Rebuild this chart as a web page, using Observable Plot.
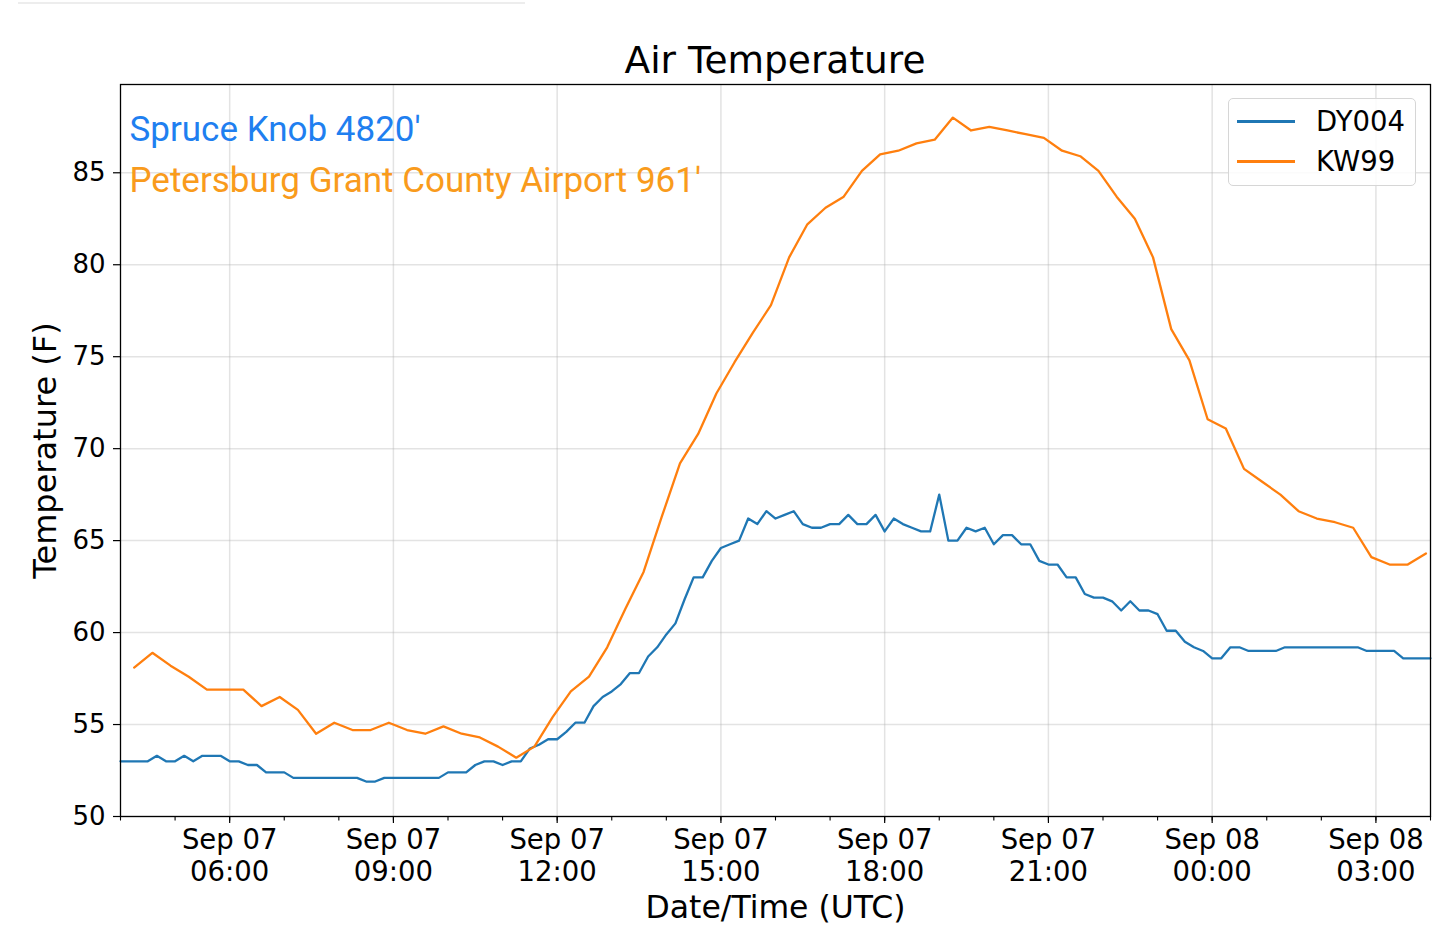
<!DOCTYPE html>
<html>
<head>
<meta charset="utf-8">
<script src="https://cdn.jsdelivr.net/npm/d3@7"></script>
<script src="https://cdn.jsdelivr.net/npm/@observablehq/plot@0.6"></script>
<style>
  html, body { margin: 0; padding: 0; background: #fff; }
  body { width: 1440px; height: 951px; overflow: hidden; position: relative; font-family: "DejaVu Sans", sans-serif; }
  #topline { position: absolute; left: 18px; top: 2px; width: 507px; height: 2px; background: #ededed; }
  #title { position: absolute; left: 0; top: 40px; width: 1550px; text-align: center; font-size: 37.5px; line-height: 40px; color: #000; }
  #chart { position: absolute; left: 0; top: 0; }
  #legend { position: absolute; left: 1228px; top: 98px; width: 186px; height: 86px; border: 1.5px solid #d6d6d6; border-radius: 5px; background: rgba(255,255,255,0.85); }
  .row { position: absolute; left: 0; height: 30px; width: 186px; }
  .sw { position: absolute; left: 8px; top: 14px; width: 58px; height: 2.5px; }
  .lab { position: absolute; left: 87px; top: 0; font-size: 27.5px; line-height: 30px; color: #000; }
</style>
</head>
<body>
<div id="topline"></div>
<div id="chart"></div>
<div id="title"></div>
<div id="legend"></div>
<script>
// ---------- data ----------
const seriesNames = ["DY004", "KW99"];
const seriesColors = ["#1f77b4", "#ff7f0e"];
const stationNotes = ["Spruce Knob 4820'", "Petersburg Grant County Airport 961'"];
const noteColors = ["#1f7ff0", "#f99b1c"];
const titleText = "Air Temperature";
const yLabel = "Temperature (F)";
const xLabel = "Date/Time (UTC)";

// DY004: every 10 minutes from 2018-09-07 04:00 UTC
const dyStart = "2018-09-07T04:00:00Z";
const dyStepMinutes = 10;
const dyTemps = [
  53.0, 53.0, 53.0, 53.0, 53.3, 53.0, 53.0, 53.3, 53.0, 53.3, 53.3, 53.3,
  53.0, 53.0, 52.8, 52.8, 52.4, 52.4, 52.4, 52.1, 52.1, 52.1, 52.1, 52.1,
  52.1, 52.1, 52.1, 51.9, 51.9, 52.1, 52.1, 52.1, 52.1, 52.1, 52.1, 52.1,
  52.4, 52.4, 52.4, 52.8, 53.0, 53.0, 52.8, 53.0, 53.0, 53.7, 53.9, 54.2,
  54.2, 54.6, 55.1, 55.1, 56.0, 56.5, 56.8, 57.2, 57.8, 57.8, 58.7, 59.2,
  59.9, 60.5, 61.8, 63.0, 63.0, 63.9, 64.6, 64.8, 65.0, 66.2, 65.9, 66.6,
  66.2, 66.4, 66.6, 65.9, 65.7, 65.7, 65.9, 65.9, 66.4, 65.9, 65.9, 66.4,
  65.5, 66.2, 65.9, 65.7, 65.5, 65.5, 67.5, 65.0, 65.0, 65.7, 65.5, 65.7,
  64.8, 65.3, 65.3, 64.8, 64.8, 63.9, 63.7, 63.7, 63.0, 63.0, 62.1, 61.9,
  61.9, 61.7, 61.2, 61.7, 61.2, 61.2, 61.0, 60.1, 60.1, 59.5, 59.2, 59.0,
  58.6, 58.6, 59.2, 59.2, 59.0, 59.0, 59.0, 59.0, 59.2, 59.2, 59.2, 59.2,
  59.2, 59.2, 59.2, 59.2, 59.2, 59.0, 59.0, 59.0, 59.0, 58.6, 58.6, 58.6,
  58.6
];

// KW99: every 20 minutes from 2018-09-07 04:15 UTC
const kwStart = "2018-09-07T04:15:00Z";
const kwStepMinutes = 20;
const kwTemps = [
  58.1, 58.9, 58.2, 57.6, 56.9, 56.9, 56.9, 56.0, 56.5, 55.8, 54.5, 55.1,
  54.7, 54.7, 55.1, 54.7, 54.5, 54.9, 54.5, 54.3, 53.8, 53.2, 53.8, 55.4,
  56.8, 57.6, 59.2, 61.3, 63.3, 66.3, 69.2, 70.8, 73.0, 74.7, 76.3, 77.8,
  80.4, 82.2, 83.1, 83.7, 85.1, 86.0, 86.2, 86.6, 86.8, 88.0, 87.3, 87.5,
  87.3, 87.1, 86.9, 86.2, 85.9, 85.1, 83.7, 82.5, 80.4, 76.5, 74.8, 71.6,
  71.1, 68.9, 68.2, 67.5, 66.6, 66.2, 66.0, 65.7, 64.1, 63.7, 63.7, 64.3
];

const xDomain = ["2018-09-07T04:00:00Z", "2018-09-08T04:00:00Z"];
const xMajorTicks = ["2018-09-07T06:00:00Z", "2018-09-07T09:00:00Z", "2018-09-07T12:00:00Z",
  "2018-09-07T15:00:00Z", "2018-09-07T18:00:00Z", "2018-09-07T21:00:00Z",
  "2018-09-08T00:00:00Z", "2018-09-08T03:00:00Z"];
const yTicks = [50, 55, 60, 65, 70, 75, 80, 85];
const yDomain = [50, 89.8];

// ---------- build ----------
const dyData = dyTemps.map((t, i) => ({series: seriesNames[0], time: d3.utcMinute.offset(new Date(dyStart), i * dyStepMinutes), temp: t}));
const kwData = kwTemps.map((t, i) => ({series: seriesNames[1], time: d3.utcMinute.offset(new Date(kwStart), i * kwStepMinutes), temp: t}));
const major = xMajorTicks.map(d => new Date(d));
const xd = xDomain.map(d => new Date(d));
const minor = d3.utcHour.range(xd[0], d3.utcHour.offset(xd[1], 1));
const fmt = d3.utcFormat("%b %d\n%H:%M");

const chart = Plot.plot({
  width: 1440,
  height: 951,
  marginLeft: 120,
  marginRight: 10,
  marginTop: 84,
  marginBottom: 135,
  style: {fontFamily: "DejaVu Sans", color: "#000", background: "transparent"},
  x: {type: "utc", domain: xd},
  y: {domain: yDomain},
  marks: [
    Plot.gridY(yTicks, {stroke: "#b0b0b0", strokeOpacity: 0.35, strokeWidth: 1.5}),
    Plot.gridX(major, {stroke: "#b0b0b0", strokeOpacity: 0.35, strokeWidth: 1.5}),
    Plot.line(dyData, {x: "time", y: "temp", stroke: seriesColors[0], strokeWidth: 2.3}),
    Plot.line(kwData, {x: "time", y: "temp", stroke: seriesColors[1], strokeWidth: 2.3}),
    Plot.frame({stroke: "#000", strokeWidth: 1.3}),
    Plot.axisY(yTicks, {tickSize: 7, tickPadding: 8, fontSize: 26, label: null, strokeWidth: 1.2}),
    Plot.axisX(minor, {tickSize: 4.5, tickFormat: () => "", label: null, strokeWidth: 1.1}),
    Plot.axisX(major, {tickSize: 7, tickPadding: 3, fontSize: 27.5, lineHeight: 1.16, tickFormat: d => fmt(d), label: null, strokeWidth: 1.2}),
    Plot.text([stationNotes[0]], {frameAnchor: "top-left", dx: 9, dy: 45, fill: noteColors[0], fontSize: 35, fontFamily: "Roboto", textAnchor: "start", lineAnchor: "middle"}),
    Plot.text([stationNotes[1]], {frameAnchor: "top-left", dx: 9, dy: 96, fill: noteColors[1], fontSize: 35, fontFamily: "Roboto", textAnchor: "start", lineAnchor: "middle"}),
    Plot.text([yLabel], {frameAnchor: "left", dx: -75, rotate: -90, fontSize: 32, textAnchor: "middle", lineAnchor: "middle"}),
    Plot.text([xLabel], {frameAnchor: "bottom", dy: 91, fontSize: 31.5, textAnchor: "middle", lineAnchor: "middle"})
  ]
});
document.getElementById("chart").appendChild(chart);
document.getElementById("title").textContent = titleText;

const legend = document.getElementById("legend");
seriesNames.forEach((name, i) => {
  const row = document.createElement("div");
  row.className = "row";
  row.style.top = (7 + i * 40) + "px";
  const sw = document.createElement("div");
  sw.className = "sw";
  sw.style.background = seriesColors[i];
  const lab = document.createElement("div");
  lab.className = "lab";
  lab.textContent = name;
  row.appendChild(sw);
  row.appendChild(lab);
  legend.appendChild(row);
});
</script>
</body>
</html>
